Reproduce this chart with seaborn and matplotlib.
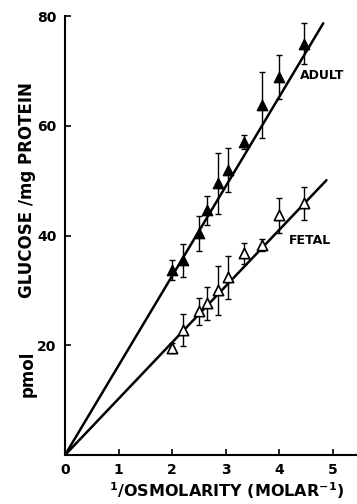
import matplotlib
matplotlib.use("Agg")
import matplotlib.pyplot as plt
import seaborn as sns
import pandas as pd

# Data
adult_x = [2.0, 2.2, 2.5, 2.65, 2.85, 3.05, 3.35, 3.67, 4.0, 4.47]
adult_y = [33.7, 35.5, 40.4, 44.6, 49.5, 51.9, 57.0, 63.8, 68.9, 75.0]
adult_err = [1.8, 3.0, 3.2, 2.7, 5.5, 4.0, 1.3, 6.0, 4.0, 3.8]

fetal_x = [2.0, 2.2, 2.5, 2.65, 2.85, 3.05, 3.35, 3.67, 4.0, 4.47]
fetal_y = [19.5, 22.8, 26.2, 27.7, 30.0, 32.4, 36.8, 38.3, 43.7, 45.9]
fetal_err = [0.9, 3.0, 2.5, 3.0, 4.5, 3.9, 1.9, 1.1, 3.2, 3.0]

fit_x = [0.0, 4.82]
adult_fit = [0.0, 78.7]
fetal_fit_x = [0.0, 4.88]
fetal_fit = [0.0, 50.1]

x_ticks = [0, 1, 2, 3, 4, 5]
y_ticks = [20, 40, 60, 80]

sns.set_style("ticks")
plt.rcParams["font.family"] = ["DejaVu Sans"]
plt.rcParams["font.weight"] = "bold"
plt.rcParams["mathtext.fontset"] = "dejavusans"
plt.rcParams["mathtext.default"] = "bf"
for k in ["text.color", "axes.labelcolor", "xtick.color", "ytick.color", "axes.edgecolor"]:
    plt.rcParams[k] = "black"

fig = plt.figure(figsize=(3.57, 5.04), dpi=100)
ax = fig.add_axes([0.182, 0.097, 0.818, 0.871])

adult = pd.DataFrame({"x": adult_x, "y": adult_y})
fetal = pd.DataFrame({"x": fetal_x, "y": fetal_y})

sns.lineplot(x=fit_x, y=adult_fit, ax=ax, color="black", lw=1.8, zorder=2)
sns.lineplot(x=fetal_fit_x, y=fetal_fit, ax=ax, color="black", lw=1.8, zorder=2)

ax.errorbar(adult_x, adult_y, yerr=adult_err, fmt="none", ecolor="black",
            elinewidth=1.0, capsize=2.5, capthick=1.0, zorder=3)
ax.errorbar(fetal_x, fetal_y, yerr=fetal_err, fmt="none", ecolor="black",
            elinewidth=1.0, capsize=2.5, capthick=1.0, zorder=3)

sns.scatterplot(data=adult, x="x", y="y", ax=ax, marker="^", s=55,
                color="black", edgecolor="black", linewidth=1.0, zorder=4)
sns.scatterplot(data=fetal, x="x", y="y", ax=ax, marker="^", s=55,
                facecolor="white", edgecolor="black", linewidth=1.2, zorder=4)

ax.text(4.38, 69.2, "ADULT", fontsize=9, fontweight="bold", va="center", ha="left")
ax.text(4.18, 39.2, "FETAL", fontsize=9, fontweight="bold", va="center", ha="left")

ax.set_xlim(0, 5.45)
ax.set_ylim(0, 80)
ax.set_xticks(x_ticks)
ax.set_yticks(y_ticks)
ax.set_xticklabels([str(t) for t in x_ticks], fontsize=10, fontweight="bold")
ax.set_yticklabels([str(t) for t in y_ticks], fontsize=10, fontweight="bold")
ax.tick_params(direction="in", length=4, width=1.2, pad=6)
for s in ["top", "right"]:
    ax.spines[s].set_visible(False)
for s in ["left", "bottom"]:
    ax.spines[s].set_linewidth(1.5)

ax.set_xlabel("")
ax.set_ylabel("")
fig.text(0.635, 0.026, r"$^{1}$/OSMOLARITY (MOLAR$^{-1}$)", fontsize=11.5,
         fontweight="bold", ha="center", va="center")
fig.text(0.076, 0.623, "GLUCOSE /mg PROTEIN", fontsize=12, fontweight="bold",
         rotation=90, ha="center", va="center")
fig.text(0.076, 0.258, "pmol", fontsize=12, fontweight="bold",
         rotation=90, ha="center", va="center")

fig.savefig("out.png", dpi=100)
